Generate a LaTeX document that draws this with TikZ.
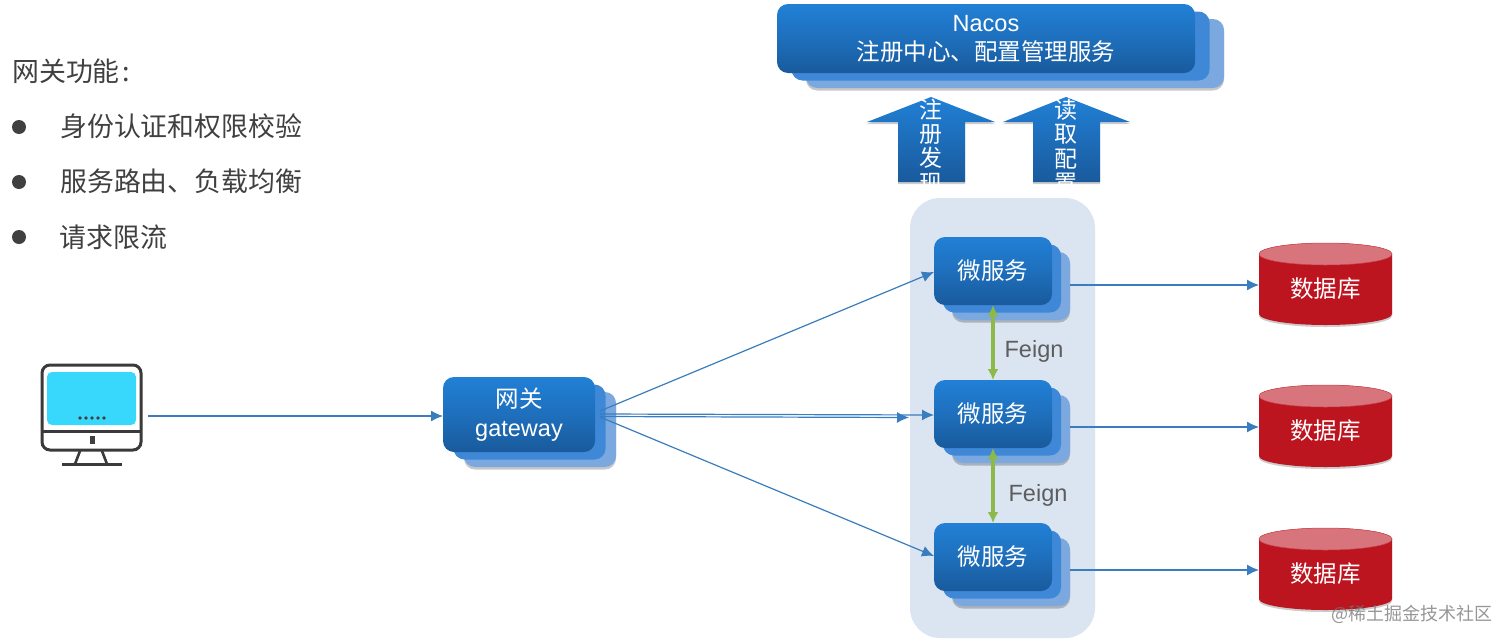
\documentclass[tikz,border=0pt]{standalone}
\usepackage{fontspec}
\setmainfont{Liberation Sans}
\newfontfamily\cjk{Noto Sans CJK SC}
\usetikzlibrary{shadows,arrows.meta,calc}
\definecolor{fronttop}{HTML}{2180D6}
\definecolor{frontmid}{HTML}{1E6FBC}
\definecolor{frontbot}{HTML}{195A9C}
\definecolor{layertwo}{HTML}{3F88D8}
\definecolor{layerthree}{HTML}{7BA8DE}
\definecolor{panelblue}{HTML}{DAE5F1}
\definecolor{linkblue}{HTML}{3A7DBE}
\definecolor{feigngreen}{HTML}{8DB94B}
\definecolor{dbred}{HTML}{BD1520}
\definecolor{dbtop}{HTML}{D8747B}
\definecolor{inkgrey}{HTML}{404040}
\definecolor{screen}{HTML}{38D8FC}
\tikzset{
  x=1pt,y=-1pt,
  plate/.style={rectangle,rounded corners=11pt,inner sep=0pt,outer sep=0pt},
  platefront/.style={plate,top color=fronttop,bottom color=frontbot,middle color=frontmid,
     text=white,align=center,font=\fontsize{23.5}{29}\selectfont\cjk},
  platetwo/.style={plate,fill=layertwo},
  platethree/.style={plate,fill=layerthree,drop shadow={shadow xshift=0pt,shadow yshift=-2.5pt,opacity=.22,fill=black}},
  link/.style={draw=linkblue,line width=1.2pt,-{Latex[length=12pt,width=11pt]}},
  feign/.style={draw=feigngreen,line width=3.4pt,{Latex[length=11pt,width=11pt]}-{Latex[length=11pt,width=11pt]}},
  feignlabel/.style={text=inkgrey!85,font=\fontsize{23.5}{26}\selectfont,inner sep=0pt},
  listtext/.style={text=inkgrey,font=\fontsize{26.9}{30}\selectfont\cjk,anchor=west,inner sep=0pt},
  bulletdot/.style={circle,fill=inkgrey,minimum size=14pt,inner sep=0pt},
  dbbox/.style={rectangle,minimum width=133pt,minimum height=82pt,inner sep=0pt,outer sep=0pt},
  dblabel/.style={text=white,font=\fontsize{23.5}{28}\selectfont\cjk,inner sep=0pt},
  uplabel/.style={text=white,align=center,inner sep=0pt,font=\fontsize{23}{24.4}\selectfont\cjk},
  monline/.style={draw=inkgrey!90!black,line width=3pt},
}
% name, x1, y1, x2, y2, dx, dy, text
\newcommand{\stackbox}[8]{%
  \pgfmathsetmacro{\bw}{#4-#2}\pgfmathsetmacro{\bh}{#5-#3}%
  \pgfmathsetmacro{\cx}{(#2+#4)/2}\pgfmathsetmacro{\cy}{(#3+#5)/2}%
  \node[platethree,minimum width=\bw pt,minimum height=\bh pt] (#1c) at (\cx+2*#6,\cy+2*#7) {};
  \node[platetwo,minimum width=\bw pt,minimum height=\bh pt] (#1b) at (\cx+#6,\cy+#7) {};
  \node[platefront,minimum width=\bw pt,minimum height=\bh pt] (#1) at (\cx,\cy) {#8};
}
% name, x1, y1, x2, y2
\newcommand{\database}[5]{%
  \pgfmathsetmacro{\cx}{(#2+#4)/2}\pgfmathsetmacro{\cy}{(#3+#5)/2}%
  \pgfmathsetmacro{\rx}{(#4-#2)/2}%
  \path[fill=dbred,drop shadow={shadow xshift=0pt,shadow yshift=-2pt,opacity=.2,fill=black}]
     (#2,#3+11) -- (#2,#5-11) arc[start angle=180,end angle=360,x radius=\rx pt,y radius=11pt]
     -- (#4,#3+11) arc[start angle=0,end angle=180,x radius=\rx pt,y radius=11pt] -- cycle;
  \path[fill=dbtop,draw=dbred!50!dbtop,line width=.5pt] (\cx,#3+11) ellipse[x radius=\rx pt,y radius=11pt];
  \node[dbbox] (#1) at (\cx,\cy+1) {};
  \node[dblabel] (#1t) at (\cx,\cy+5) {数据库};
}
% tip x, left, right, shaft left, shaft right
\newcommand{\uparrowshape}[5]{%
  \path[top color=fronttop,bottom color=frontbot,drop shadow={shadow xshift=0pt,shadow yshift=-2pt,opacity=.2,fill=black}]
    (#1,97) -- (#3,122) -- (#5,122) -- (#5,182) -- (#4,182) -- (#4,122) -- (#2,122) -- cycle;
}
\begin{document}
\begin{tikzpicture}
\useasboundingbox (0,0) rectangle (1512,643);
\fill[white] (0,0) rectangle (1512,643);

% left text
\node[listtext] (title) at (12,71) {网关功能\hspace{3pt}:};
\node[bulletdot] (b1) at (19,127) {};
\node[bulletdot] (b2) at (19,182) {};
\node[bulletdot] (b3) at (19,237) {};
\node[listtext] (t1) at (60,126) {身份认证和权限校验};
\node[listtext] (t2) at (60,181) {服务路由、负载均衡};
\node[listtext] (t3) at (59.5,237) {请求限流};

% panel
\node[rectangle,rounded corners=30pt,fill=panelblue,minimum width=185pt,minimum height=440pt,inner sep=0pt] (panel) at (1002.5,418) {};

% Nacos
\stackbox{nacos}{777}{4}{1195}{73}{14.5}{7.5}{{\fontspec{Liberation Sans}Nacos}\\注册中心、配置管理服务}

% up arrows
\uparrowshape{931}{867}{995}{898}{965}
\uparrowshape{1066}{1003}{1130}{1033}{1100}
\node[uplabel] (up1) at (931,146) {注\\册\\发\\现};
\node[uplabel] (up2) at (1066,146) {读\\取\\配\\置};

% gateway and services
\stackbox{gw}{443}{377}{595}{452}{10.5}{7.5}{网关\\{\fontspec{Liberation Sans}gateway}}
\stackbox{ms1}{934}{237}{1052}{305}{9}{7.5}{微服务}
\stackbox{ms2}{934}{380}{1052}{448}{9}{7.5}{微服务}
\stackbox{ms3}{934}{523}{1052}{591}{9}{7.5}{微服务}

% databases
\database{db1}{1259}{243}{1392}{325}
\database{db2}{1259}{385}{1392}{467}
\database{db3}{1259}{528}{1392}{610}

% monitor
\node[rectangle,minimum width=99pt,minimum height=85pt,inner sep=0pt] (pc) at (91.5,407.5) {};
\path[fill=screen,rounded corners=5pt] (47,372) rectangle (136,425);
\draw[monline,rounded corners=8pt] (42,365) rectangle (141,450);
\draw[monline] (42,431) -- (141,431);
\draw[monline,line width=2.6pt] (80,451) -- (75,464);
\draw[monline,line width=2.6pt] (102,451) -- (107,464);
\draw[monline] (62,464) -- (122,464);
\fill[inkgrey] (89.5,436) rectangle (94.5,444);
\foreach \dx in {80,86,92,98,104} \fill[inkgrey] (\dx,418) circle[radius=1.8pt];

% connectors
\coordinate (pcout) at (148,416);
\coordinate (gwA) at (600,411);
\coordinate (gwB) at (600,414);
\coordinate (gwC) at (600,416.5);
\coordinate (gwD) at (600,417);
\coordinate (endA) at (934,272);
\coordinate (endB) at (934,415);
\coordinate (endC) at (909,417.5);
\coordinate (endD) at (934,556);
\draw[link] (pcout) -- (gw.west |- pcout);
\draw[link] (gwA) -- (endA);
\draw[link] (gwB) -- (endB);
\draw[link] (gwC) -- (endC);
\draw[link] (gwD) -- (endD);
\draw[link] (ms1c.east |- db1.west) -- (db1.west);
\draw[link] (ms2c.east |- db2.west) -- (db2.west);
\draw[link] (ms3c.east |- db3.west) -- (db3.west);
\draw[feign] (ms1.south) -- (ms2.north);
\draw[feign] (ms2.south) -- (ms3.north);
\node[feignlabel] (f1) at (1034,351.5) {Feign};
\node[feignlabel] (f2) at (1038,495.5) {Feign};

% watermark
\node[text=black!55,opacity=.75,inner sep=0pt,anchor=east,font=\fontsize{18}{20}\selectfont\cjk] (wm) at (1493,614) {@稀土掘金技术社区};
\end{tikzpicture}
\end{document}
